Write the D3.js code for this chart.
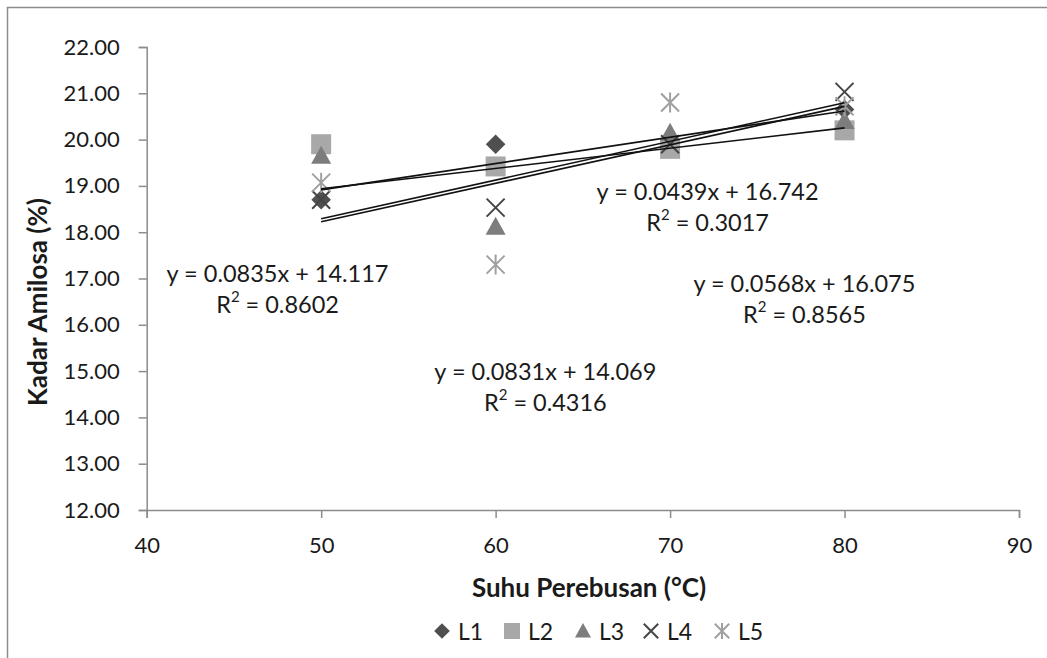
<!DOCTYPE html>
<html>
<head>
<meta charset="utf-8">
<title>Kadar Amilosa</title>
<script src="https://cdn.jsdelivr.net/npm/d3@7"></script>
<style>
  body { margin: 0; background: #fff; }
  text { font-family: Lato, "Open Sans", sans-serif; fill: #1a1a1a; }
</style>
</head>
<body>
<script>
// data
var suhu = [50, 60, 70, 80];
var seriesNames = ['L1', 'L2', 'L3', 'L4', 'L5'];
var L1 = [18.70, 19.90, 19.85, 20.65];
var L2 = [19.90, 19.42, 19.80, 20.20];
var L3 = [19.65, 18.12, 20.15, 20.40];
var L4 = [18.70, 18.53, 19.90, 21.03];
var L5 = [19.07, 17.30, 20.80, 20.72];
var xTicks = [40, 50, 60, 70, 80, 90];
var yTicks = [12, 13, 14, 15, 16, 17, 18, 19, 20, 21, 22];

// trendlines shown on the chart (L2 has none)
var trendSeries = ['L4', 'L5', 'L3', 'L1'];
var trendSlope = [0.0835, 0.0831, 0.0439, 0.0568];
var trendIntercept = [14.117, 14.069, 16.742, 16.075];
var trendR2 = ['0.8602', '0.4316', '0.3017', '0.8565'];

var W = 1047, H = 658;
var svg = d3.select('body').append('svg')
    .attr('width', W).attr('height', H);

// chart border (right/bottom fall outside the picture)
svg.append('rect')
    .attr('x', 7.5).attr('y', 7.5)
    .attr('width', W + 20).attr('height', H + 20)
    .attr('fill', '#fff').attr('stroke', '#8c8c8c').attr('stroke-width', 1.5);

var plotLeft = 146.7, plotRight = 1019, plotTop = 47, plotBottom = 510;
var x = d3.scaleLinear().domain([40, 90]).range([plotLeft, plotRight]);
var y = d3.scaleLinear().domain([12, 22]).range([plotBottom, plotTop]);

var gx = svg.append('g').attr('transform', 'translate(0,' + plotBottom + ')')
    .call(d3.axisBottom(x).tickValues(xTicks).tickSize(8).tickPadding(19)
        .tickFormat(d3.format('d')));
var gy = svg.append('g').attr('transform', 'translate(' + plotLeft + ',0)')
    .call(d3.axisLeft(y).tickValues(yTicks).tickSize(8).tickPadding(19)
        .tickFormat(d3.format('.2f')));
[gx, gy].forEach(function(g) {
    g.select('.domain').attr('stroke', '#8c8c8c').attr('stroke-width', 1.5);
    g.selectAll('.tick line').attr('stroke', '#8c8c8c').attr('stroke-width', 1.5);
    g.selectAll('.tick text').attr('font-size', 22).attr('fill', '#1a1a1a')
        .style('font-family', 'Lato, sans-serif');
});

// axis titles
svg.append('text')
    .attr('transform', 'translate(37,' + 302 + ') rotate(-90)')
    .attr('text-anchor', 'middle').attr('dominant-baseline', 'central')
    .attr('font-size', 26).attr('font-weight', 'bold')
    .text('Kadar Amilosa (%)');
svg.append('text')
    .attr('x', 589).attr('y', 587)
    .attr('text-anchor', 'middle').attr('dominant-baseline', 'central')
    .attr('font-size', 26).attr('font-weight', 'bold')
    .text('Suhu Perebusan (°C)');

// marker styles
var colors = { L1: '#4f4f4f', L2: '#a8a8a8', L3: '#7d7d7d', L4: '#454545', L5: '#a0a0a0' };

function drawMarker(g, name, s) {
    var h = s / 2;
    var c = colors[name];
    if (name === 'L1') {
        var d = h * 0.98;
        g.append('path').attr('d', 'M0,' + (-d) + 'L' + d + ',0L0,' + d + 'L' + (-d) + ',0Z')
            .attr('fill', c);
    } else if (name === 'L2') {
        g.append('rect').attr('x', -h).attr('y', -h).attr('width', s).attr('height', s)
            .attr('fill', c);
    } else if (name === 'L3') {
        g.append('path').attr('d', 'M0,' + (-h) + 'L' + h + ',' + (h * 0.8) + 'L' + (-h) + ',' + (h * 0.8) + 'Z')
            .attr('fill', c);
    } else if (name === 'L4') {
        var k = h * 0.9;
        g.append('path').attr('d', 'M' + (-k) + ',' + (-k) + 'L' + k + ',' + k + 'M' + k + ',' + (-k) + 'L' + (-k) + ',' + k)
            .attr('stroke', c).attr('stroke-width', 2).attr('fill', 'none');
    } else {
        var k2 = h * 0.9;
        g.append('path').attr('d', 'M' + (-k2) + ',' + (-k2) + 'L' + k2 + ',' + k2 + 'M' + k2 + ',' + (-k2) + 'L' + (-k2) + ',' + k2 +
                'M0,' + (-h) + 'L0,' + h)
            .attr('stroke', c).attr('stroke-width', 2).attr('fill', 'none');
    }
}

var allData = { L1: L1, L2: L2, L3: L3, L4: L4, L5: L5 };

var pts = svg.append('g');
seriesNames.forEach(function(name) {
    pts.selectAll('g.' + name)
        .data(allData[name])
        .enter().append('g')
        .attr('class', name)
        .attr('transform', function(d, i) { return 'translate(' + x(suhu[i]) + ',' + y(d) + ')'; })
        .each(function() { drawMarker(d3.select(this), name, 20); });
});

// trendlines
var xMin = d3.min(suhu), xMax = d3.max(suhu);
svg.append('g').selectAll('line')
    .data(trendSlope)
    .enter().append('line')
    .attr('x1', x(xMin))
    .attr('y1', function(m, i) { return y(m * xMin + trendIntercept[i]); })
    .attr('x2', x(xMax))
    .attr('y2', function(m, i) { return y(m * xMax + trendIntercept[i]); })
    .attr('stroke', '#111').attr('stroke-width', 1.6);

// equation labels (anchor in data units)
var labelAt = [[47.5, 17.11], [62.85, 15.0], [72.15, 18.9], [77.7, 16.9]];
var eq = svg.append('g');
trendSlope.forEach(function(m, i) {
    var cx = x(labelAt[i][0]), cy = y(labelAt[i][1]);
    eq.append('text')
        .attr('x', cx).attr('y', cy)
        .attr('text-anchor', 'middle').attr('dominant-baseline', 'central')
        .attr('font-size', 23.5)
        .text('y = ' + m + 'x + ' + trendIntercept[i]);
    var r = eq.append('text')
        .attr('x', cx).attr('y', cy + 31)
        .attr('text-anchor', 'middle').attr('dominant-baseline', 'central')
        .attr('font-size', 23.5);
    r.append('tspan').text('R');
    r.append('tspan').attr('font-size', 15).attr('dy', -8).text('2');
    r.append('tspan').attr('dy', 8).text(' = ' + trendR2[i]);
});

// legend
var legendX = [442, 512, 583, 651, 722];
var legend = svg.append('g');
seriesNames.forEach(function(name, i) {
    var g = legend.append('g').attr('transform', 'translate(' + legendX[i] + ',631)');
    drawMarker(g, name, 16);
    g.append('text').attr('x', 16).attr('y', 0)
        .attr('dominant-baseline', 'central')
        .attr('font-size', 23)
        .text(name);
});
</script>
</body>
</html>
